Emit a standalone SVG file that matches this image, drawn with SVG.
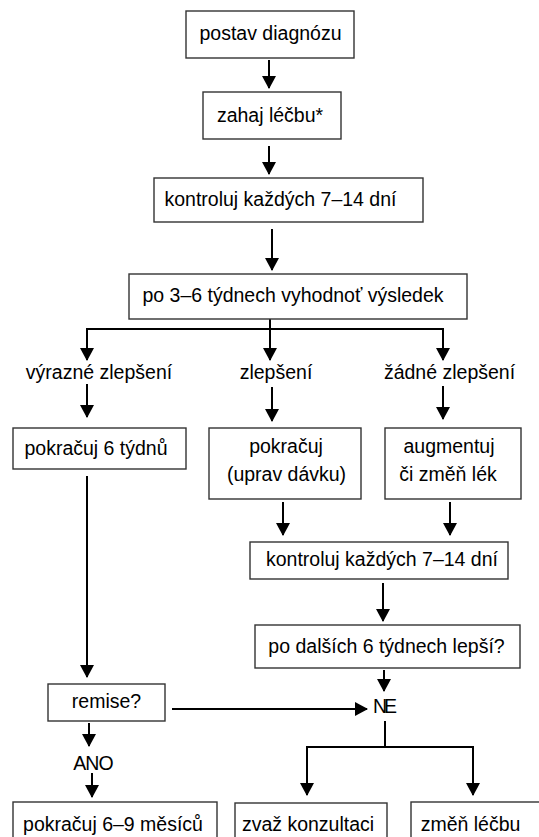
<svg xmlns="http://www.w3.org/2000/svg" width="539" height="837" viewBox="0 0 539 837">
<style>
.box{fill:#fff;stroke:#333;stroke-width:1.4}
.t{font-family:"Liberation Sans",Arial,Helvetica,sans-serif;font-size:19.5px;fill:#000;text-anchor:middle}
.c{stroke:#000;stroke-width:2;fill:none}
.a{stroke:#000;stroke-width:2;fill:none;marker-end:url(#ah)}
</style>
<defs>
<marker id="ah" markerUnits="userSpaceOnUse" markerWidth="13" markerHeight="14" refX="12" refY="7" orient="auto">
<path d="M0,0 L13,7 L0,14 z" fill="#000"/>
</marker>
</defs>
<rect width="539" height="837" fill="#fff"/>
<g id="connectors">
<line class="a" x1="269" y1="60" x2="269" y2="88"/>
<line class="a" x1="269" y1="146" x2="269" y2="174"/>
<line class="a" x1="272" y1="229" x2="272" y2="270"/>
<line class="c" x1="86" y1="329" x2="444" y2="329"/>
<line class="a" x1="270" y1="319" x2="270" y2="360"/>
<line class="a" x1="87" y1="329" x2="87" y2="360"/>
<line class="a" x1="443" y1="329" x2="443" y2="360"/>
<line class="a" x1="87" y1="384" x2="87" y2="417"/>
<line class="a" x1="272" y1="387" x2="272" y2="421"/>
<line class="a" x1="443" y1="386" x2="443" y2="419"/>
<line class="a" x1="283" y1="502" x2="283" y2="535"/>
<line class="a" x1="450" y1="502" x2="450" y2="535"/>
<line class="a" x1="383" y1="583" x2="383" y2="621"/>
<line class="a" x1="384" y1="670" x2="384" y2="691"/>
<line class="a" x1="87" y1="476" x2="87" y2="677"/>
<line class="a" x1="172" y1="709" x2="367" y2="709"/>
<line class="a" x1="89" y1="723" x2="89" y2="746"/>
<line class="a" x1="92" y1="773" x2="92" y2="797"/>
<line class="c" x1="385" y1="721" x2="385" y2="747"/>
<line class="c" x1="306" y1="747" x2="474" y2="747"/>
<line class="a" x1="307" y1="747" x2="307" y2="795"/>
<line class="a" x1="473" y1="747" x2="473" y2="795"/>
</g>
<g id="n1"><rect class="box" x="186" y="11" width="168" height="47"/><text class="t" x="270.5" y="40">postav diagnózu</text></g>
<g id="n2"><rect class="box" x="203" y="92" width="138" height="47"/><text class="t" x="270" y="122">zahaj léčbu*</text></g>
<g id="n3"><rect class="box" x="154" y="178" width="269" height="44"/><text class="t" x="280.5" y="206">kontroluj každých 7–14 dní</text></g>
<g id="n4"><rect class="box" x="129" y="274" width="338" height="45"/><text class="t" x="293" y="302">po 3–6 týdnech vyhodnoť výsledek</text></g>
<g id="l1"><text class="t" x="99" y="379">výrazné zlepšení</text></g>
<g id="l2"><text class="t" x="276" y="379">zlepšení</text></g>
<g id="l3"><text class="t" x="449.5" y="379">žádné zlepšení</text></g>
<g id="n5"><rect class="box" x="13" y="428" width="173" height="41"/><text class="t" x="96" y="455">pokračuj 6 týdnů</text></g>
<g id="n6"><rect class="box" x="209" y="428" width="152" height="71"/><text class="t" x="286" y="453">pokračuj</text><text class="t" x="286.5" y="481">(uprav dávku)</text></g>
<g id="n7"><rect class="box" x="385" y="428" width="136" height="71"/><text class="t" x="449" y="453">augmentuj</text><text class="t" x="448" y="481">či změň lék</text></g>
<g id="n8"><rect class="box" x="250" y="542" width="258" height="37"/><text class="t" x="382" y="566">kontroluj každých 7–14 dní</text></g>
<g id="n9"><rect class="box" x="255" y="625" width="265" height="43"/><text class="t" x="386.5" y="653">po dalších 6 týdnech lepší?</text></g>
<g id="ne"><text class="t" x="383.5" y="713" letter-spacing="-3">NE</text></g>
<g id="n10"><rect class="box" x="48" y="684" width="117" height="37"/><text class="t" x="106.5" y="708">remise?</text></g>
<g id="ano"><text class="t" x="93" y="770" letter-spacing="-1">ANO</text></g>
<g id="n11"><rect class="box" x="13" y="802" width="204" height="50"/><text class="t" x="113" y="831">pokračuj 6–9 měsíců</text></g>
<g id="n12"><rect class="box" x="235" y="803" width="152" height="50"/><text class="t" x="308" y="831">zvaž konzultaci</text></g>
<g id="n13"><rect class="box" x="411" y="802" width="140" height="50"/><text class="t" x="470.5" y="831">změň léčbu</text></g>
</svg>
